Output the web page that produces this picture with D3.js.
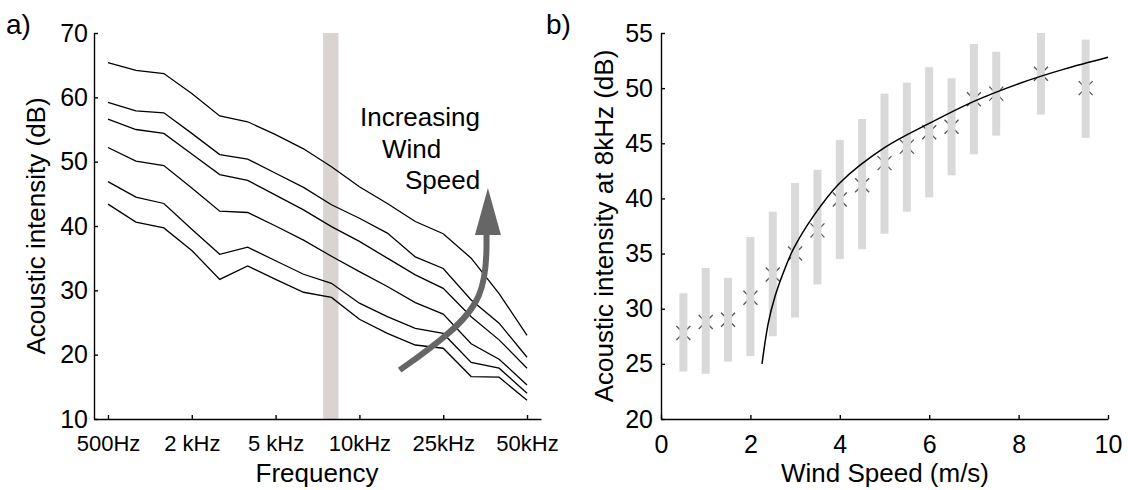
<!DOCTYPE html>
<html>
<head>
<meta charset="utf-8">
<script src="https://cdn.jsdelivr.net/npm/d3@7"></script>
<style>
  body { margin: 0; background: #fff; }
  svg { display: block; font-family: "Liberation Sans", Arial, sans-serif; }
  .axis path, .axis line { stroke: #000; stroke-width: 1.4px; }
  .axis text { fill: #000; }
</style>
</head>
<body>
<div id="chart"></div>
<script>
// ---- panel a) : spectra for increasing wind speed ----
var bandIndex = [0, 1, 2, 3, 4, 5, 6, 7, 8, 9, 10, 11, 12, 13, 14, 15];
var freqTickIdx = [0, 3, 6, 9, 12, 15];
var freqLabels = ["500Hz", "2 kHz", "5 kHz", "10kHz", "25kHz", "50kHz"];
var highlightBand = [7.7, 8.25];

var spectrum1 = [65.4, 64.2, 63.7, 60.6, 57.1, 56.2, 54.2, 52.0, 49.2, 46.1, 43.5, 40.7, 38.8, 35.0, 29.5, 23.0];
var spectrum2 = [59.2, 57.9, 57.6, 54.4, 51.1, 50.4, 48.2, 46.0, 43.3, 41.2, 38.9, 35.2, 33.4, 28.5, 24.9, 19.6];
var spectrum3 = [56.6, 55.0, 54.4, 51.2, 48.0, 47.1, 44.8, 42.5, 39.9, 37.6, 35.0, 32.4, 30.3, 25.9, 22.3, 17.9];
var spectrum4 = [52.2, 50.1, 49.4, 45.9, 42.3, 42.1, 40.0, 37.8, 35.3, 32.9, 30.6, 28.1, 26.3, 21.7, 19.3, 15.3];
var spectrum5 = [46.9, 44.5, 43.5, 39.5, 35.6, 36.7, 34.6, 32.5, 31.1, 28.0, 25.9, 24.1, 23.3, 18.8, 17.9, 14.0];
var spectrum6 = [43.4, 40.6, 39.7, 36.2, 31.7, 33.8, 31.7, 29.7, 28.9, 25.5, 23.3, 21.5, 21.0, 16.6, 16.5, 12.9];
var yTicksA = [10, 20, 30, 40, 50, 60, 70];

// arrow annotation, in (band index, dB)
var arrowPath = [[10.44, 17.6], [11.87, 22.0], [13.55, 28.5], [13.55, 38.9]];
var arrowTip = [13.6, 45.9];

// ---- panel b) : intensity at 8kHz vs wind speed ----
var windSpeed = [0.5, 1, 1.5, 2, 2.5, 3, 3.5, 4, 4.5, 5, 5.5, 6, 6.5, 7, 7.5, 8.5, 9.5];
var meanLevel = [27.8, 28.8, 29.0, 31.0, 33.1, 35.0, 37.1, 39.9, 41.2, 43.2, 44.7, 46.0, 46.5, 49.0, 49.5, 51.3, 50.0];
var lowLevel  = [24.3, 24.1, 25.2, 25.7, 27.5, 29.2, 32.2, 34.5, 35.4, 36.8, 38.8, 40.1, 42.1, 44.0, 45.7, 47.6, 45.5];
var highLevel = [31.4, 33.7, 32.8, 36.5, 38.8, 41.4, 42.6, 45.3, 47.2, 49.5, 50.5, 51.9, 50.9, 54.0, 53.3, 55.0, 54.4];
var fitX = [2.26, 2.4, 2.55, 2.74, 2.96, 3.41, 4, 5, 6, 7, 8, 9, 10];
var fitY = [25.0, 28.7, 31.1, 33.3, 35.4, 38.4, 41.4, 44.6, 46.8, 48.8, 50.4, 51.7, 52.8];
var xTicksB = [0, 2, 4, 6, 8, 10];
var yTicksB = [20, 25, 30, 35, 40, 45, 50, 55];

var width = 1128, height = 490;
var svg = d3.select("#chart").append("svg")
    .attr("width", width)
    .attr("height", height);

// ================= panel a =================
var xA = d3.scaleLinear().domain([-0.5, 15.5]).range([94, 541]);
var yA = d3.scaleLinear().domain([10, 70]).range([419, 33]);

svg.append("rect")
    .attr("x", xA(highlightBand[0]))
    .attr("y", yA(70))
    .attr("width", xA(highlightBand[1]) - xA(highlightBand[0]))
    .attr("height", yA(10) - yA(70))
    .attr("fill", "#d9d3d1");

var lineA = d3.line()
    .x(function(d, i) { return xA(bandIndex[i]); })
    .y(function(d) { return yA(d); });

svg.append("g").selectAll("path")
    .data([spectrum1, spectrum2, spectrum3, spectrum4, spectrum5, spectrum6])
    .enter().append("path")
    .attr("d", lineA)
    .attr("fill", "none")
    .attr("stroke", "#000")
    .attr("stroke-width", 1.3);

var axA_x = svg.append("g")
    .attr("class", "axis")
    .attr("transform", "translate(0," + yA(10) + ")")
    .call(d3.axisBottom(xA).tickValues(freqTickIdx)
        .tickFormat(function(d, i) { return freqLabels[i]; })
        .tickSizeInner(-4).tickSizeOuter(0).tickPadding(16));
axA_x.selectAll("text").style("font-size", "22px");

var axA_y = svg.append("g")
    .attr("class", "axis")
    .attr("transform", "translate(" + xA(-0.5) + ",0)")
    .call(d3.axisLeft(yA).tickValues(yTicksA)
        .tickSizeInner(-4).tickSizeOuter(0).tickPadding(6));
axA_y.selectAll("text").style("font-size", "25px");

svg.append("text")
    .attr("transform", "translate(45," + 226 + ") rotate(-90)")
    .attr("text-anchor", "middle")
    .style("font-size", "26px")
    .text("Acoustic intensity (dB)");

svg.append("text")
    .attr("x", 317).attr("y", 482)
    .attr("text-anchor", "middle")
    .style("font-size", "26px")
    .text("Frequency");

svg.append("text")
    .attr("x", 6).attr("y", 34)
    .style("font-size", "28px")
    .text("a)");

// annotation
var ann = svg.append("g").attr("fill", "#000").style("font-size", "26px");
ann.append("text").attr("x", 360).attr("y", 126).text("Increasing");
ann.append("text").attr("x", 382).attr("y", 158).text("Wind");
ann.append("text").attr("x", 405).attr("y", 189).text("Speed");

var arrowLine = d3.line()
    .x(function(d) { return xA(d[0]); })
    .y(function(d) { return yA(d[1]); })
    .curve(d3.curveBasis);

svg.append("path")
    .attr("d", arrowLine(arrowPath))
    .attr("fill", "none")
    .attr("stroke", "#666")
    .attr("stroke-width", 6);

var tipX = xA(arrowTip[0]), tipY = yA(arrowTip[1]);
var baseY = yA(arrowPath[arrowPath.length - 1][1]) + 2;
svg.append("path")
    .attr("d", "M" + tipX + "," + tipY + "L" + (tipX + 13) + "," + baseY + "L" + (tipX - 13) + "," + baseY + "Z")
    .attr("fill", "#666");

// ================= panel b =================
var xB = d3.scaleLinear().domain([0, 10]).range([661, 1108]);
var yB = d3.scaleLinear().domain([20, 55]).range([419, 33]);

var pts = windSpeed.map(function(w, i) {
    return { w: w, mean: meanLevel[i], lo: lowLevel[i], hi: highLevel[i] };
});

// crosses sit beneath the bars
svg.append("g").selectAll("path")
    .data(pts)
    .enter().append("path")
    .attr("d", function(d) {
        var cx = xB(d.w), cy = yB(d.mean), s = 7;
        return "M" + (cx - s) + "," + (cy - s) + "L" + (cx + s) + "," + (cy + s) +
               "M" + (cx - s) + "," + (cy + s) + "L" + (cx + s) + "," + (cy - s);
    })
    .attr("stroke", "#555")
    .attr("stroke-width", 1.3)
    .attr("fill", "none");

svg.append("g").selectAll("rect")
    .data(pts)
    .enter().append("rect")
    .attr("x", function(d) { return xB(d.w) - 4; })
    .attr("y", function(d) { return yB(d.hi); })
    .attr("width", 8)
    .attr("height", function(d) { return yB(d.lo) - yB(d.hi); })
    .attr("fill", "#d9d9d9");

var fitLine = d3.line()
    .x(function(d, i) { return xB(fitX[i]); })
    .y(function(d) { return yB(d); })
    .curve(d3.curveCatmullRom.alpha(0.5));

svg.append("path")
    .attr("d", fitLine(fitY))
    .attr("fill", "none")
    .attr("stroke", "#000")
    .attr("stroke-width", 1.5);

var axB_x = svg.append("g")
    .attr("class", "axis")
    .attr("transform", "translate(0," + yB(20) + ")")
    .call(d3.axisBottom(xB).tickValues(xTicksB)
        .tickSizeInner(-4).tickSizeOuter(0).tickPadding(16));
axB_x.selectAll("text").style("font-size", "25px");

var axB_y = svg.append("g")
    .attr("class", "axis")
    .attr("transform", "translate(" + xB(0) + ",0)")
    .call(d3.axisLeft(yB).tickValues(yTicksB)
        .tickSizeInner(-4).tickSizeOuter(0).tickPadding(8));
axB_y.selectAll("text").style("font-size", "25px");

svg.append("text")
    .attr("transform", "translate(613," + 226 + ") rotate(-90)")
    .attr("text-anchor", "middle")
    .style("font-size", "26px")
    .text("Acoustic intensity at 8kHz (dB)");

svg.append("text")
    .attr("x", 885).attr("y", 482)
    .attr("text-anchor", "middle")
    .style("font-size", "26px")
    .text("Wind Speed (m/s)");

svg.append("text")
    .attr("x", 546).attr("y", 34)
    .style("font-size", "28px")
    .text("b)");
</script>
</body>
</html>
